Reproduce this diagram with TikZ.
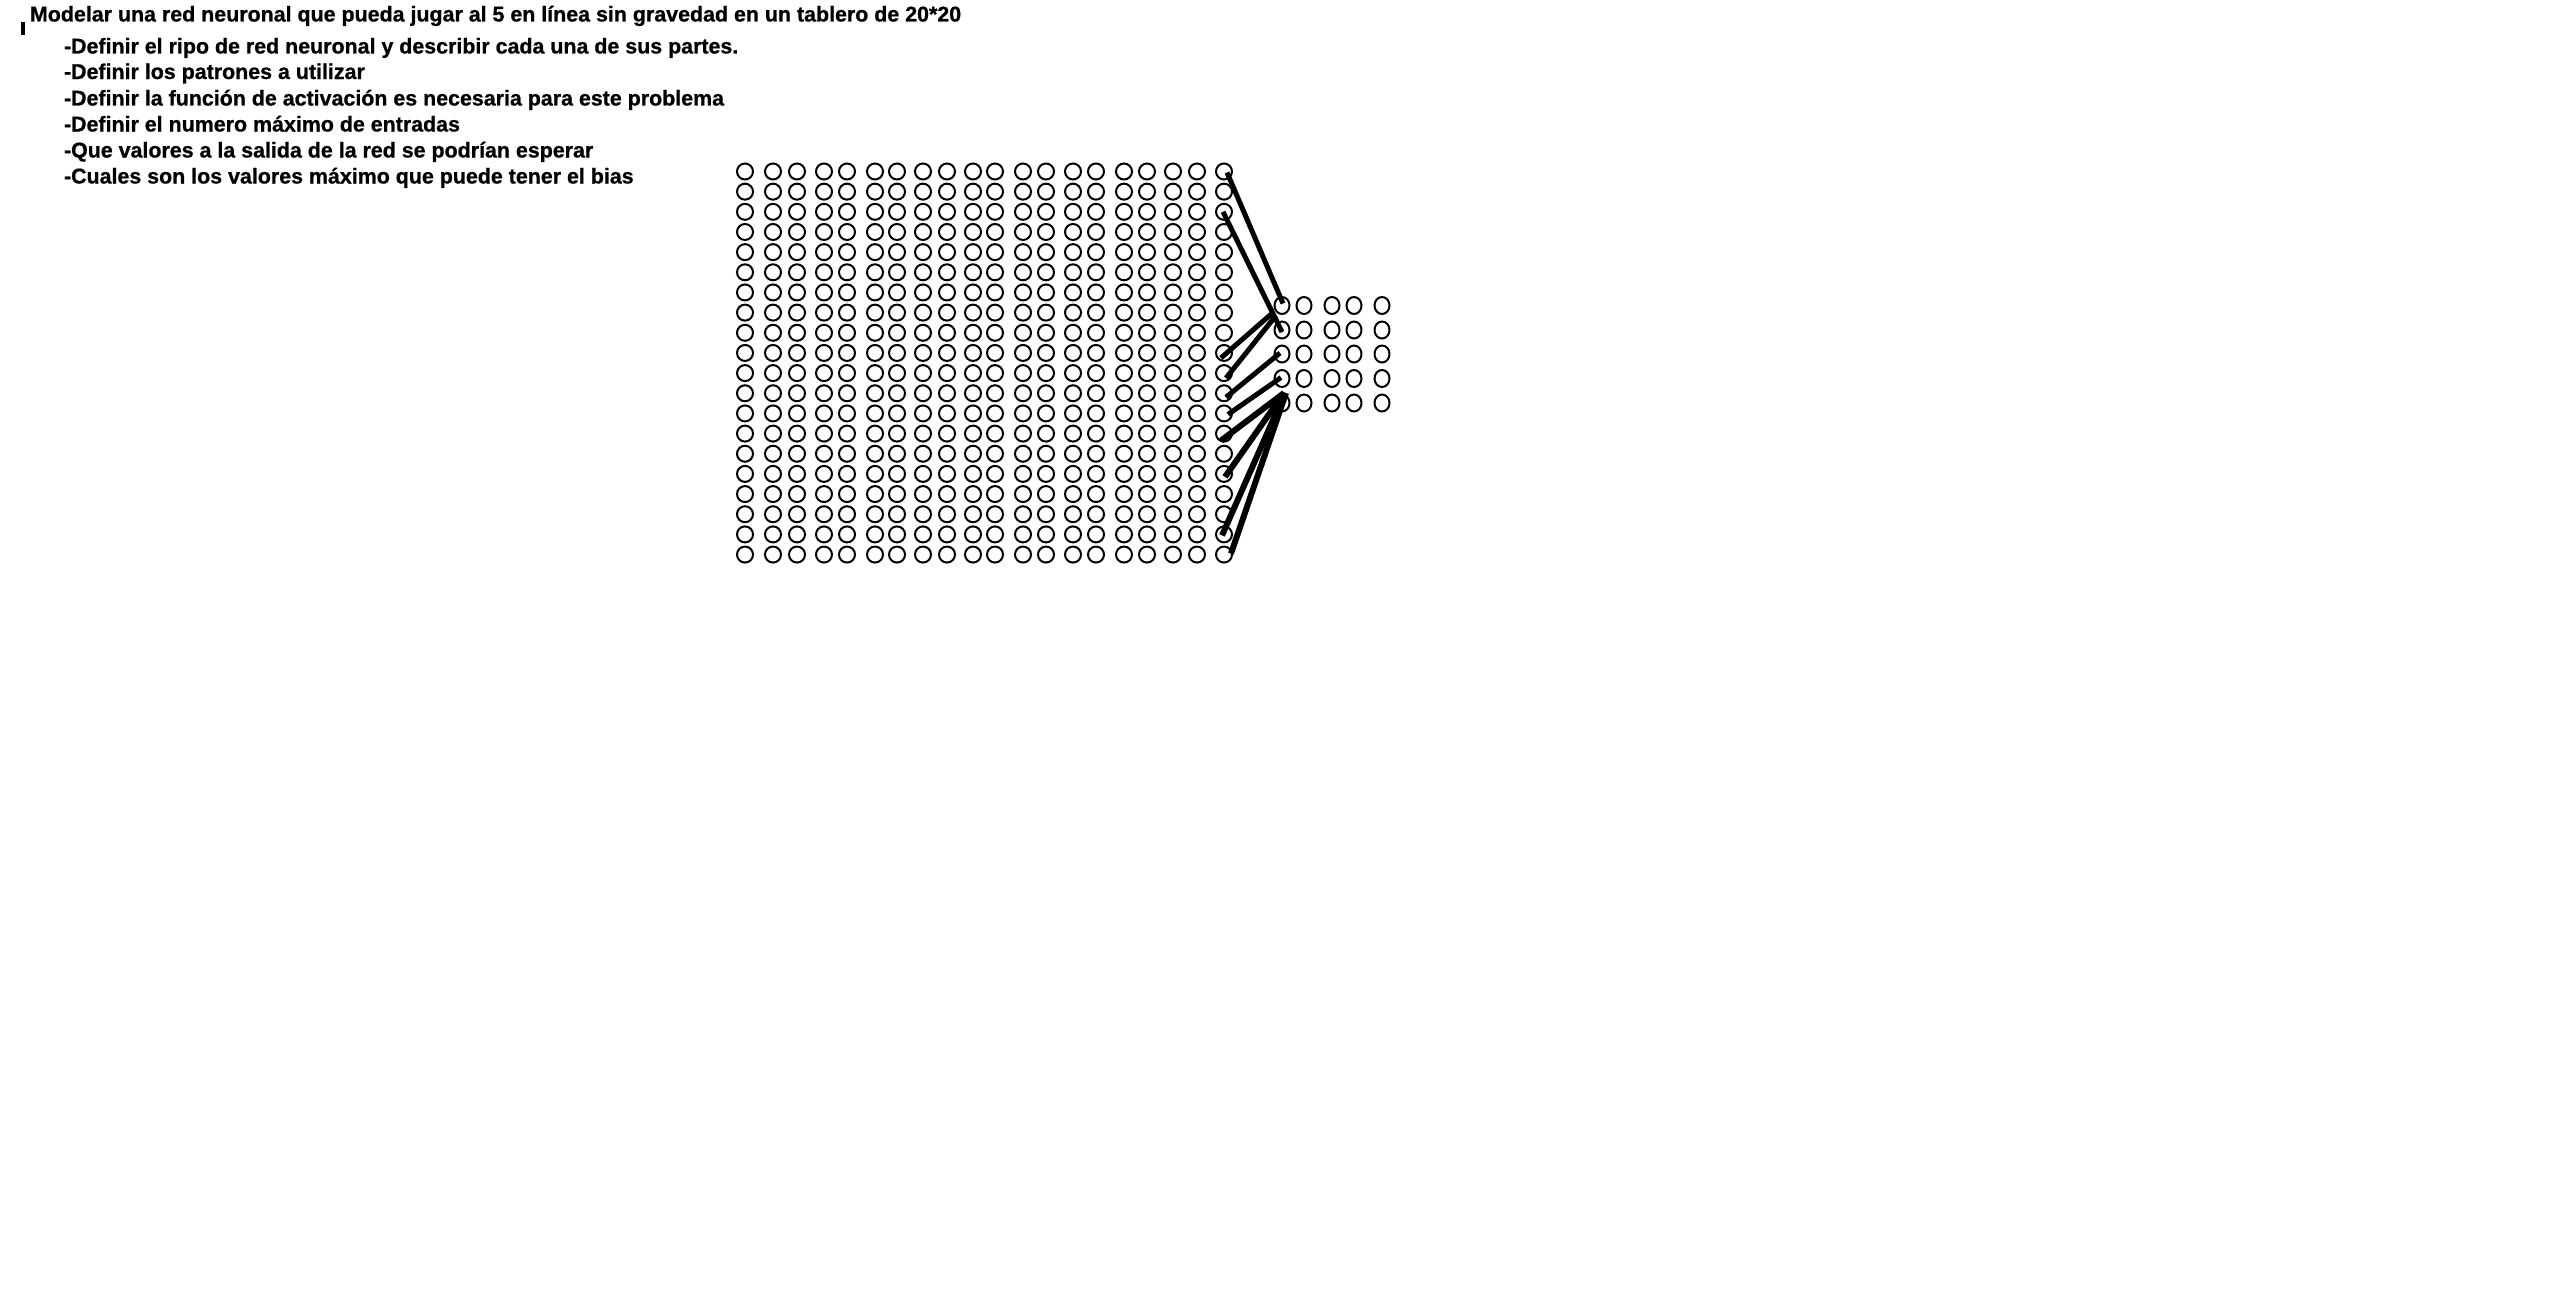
\documentclass[tikz,border=0pt]{standalone}
\usepackage{fontspec}
\setmainfont{Liberation Sans}[BoldFeatures={FakeBold=0.8}]
\usetikzlibrary{shapes.geometric}
\begin{document}
\begin{tikzpicture}[x=1pt,y=-1pt,
  txt/.style={anchor=base west,inner sep=0pt,outer sep=0pt,font=\fontsize{21.4}{26}\selectfont\bfseries},
  cell/.style={ellipse,draw=black,line width=2pt,minimum width=16pt,minimum height=16pt,inner sep=0pt},
  rcell/.style={ellipse,draw=black,line width=2pt,minimum width=15pt,minimum height=17pt,inner sep=0pt},
  link/.style={draw=black,line width=5pt}]
\useasboundingbox[fill=white] (0,0) rectangle (2552,1290);
\fill[black] (21,22) rectangle (25,35);
\node[txt] (title) at (30,21.5) {Modelar una red neuronal que pueda jugar al 5 en línea sin gravedad en un tablero de 20*20};
\node[txt] (i1) at (64,53.5) {-Definir el ripo de red neuronal y describir cada una de sus partes.};
\node[txt] (i2) at (64,79) {-Definir los patrones a utilizar};
\node[txt] (i3) at (64,105.5) {-Definir la función de activación es necesaria para este problema};
\node[txt] (i4) at (64,131.5) {-Definir el numero máximo de entradas};
\node[txt] (i5) at (64,157.5) {-Que valores a la salida de la red se podrían esperar};
\node[txt] (i6) at (64,183.5) {-Cuales son los valores máximo que puede tener el bias};
\foreach \x [count=\i] in {745,773,797,824,847,875,897,923,947,973,995,1023,1046,1073,1096,1124,1147,1173,1197,1224}
  \foreach \r in {1,...,20}
    \node[cell] (a\i-\r) at (\x,{171.5+(\r-1)*20.16}) {};
\foreach \x [count=\i] in {1282,1304,1332,1354,1382}
  \foreach \y [count=\j] in {305.5,330,354,378.5,403}
    \node[rcell] (b\i-\j) at (\x,\y) {};
\draw[link] ([shift={(3,1)}]a20-1.center) -- ([shift={(1,-2)}]b1-1.center);
\draw[link] ([shift={(-1,0)}]a20-3.center) -- ([shift={(0,2)}]b1-2.center);
\draw[link] ([shift={(-3,5)}]a20-10.center) -- ([shift={(-9,7)}]b1-1.center);
\draw[link] ([shift={(2,5)}]a20-11.center) -- ([shift={(-6,10)}]b1-1.center);
\draw[link] ([shift={(2,4)}]a20-12.center) -- ([shift={(-2,-1)}]b1-3.center);
\draw[link] ([shift={(4,1)}]a20-13.center) -- ([shift={(-1,-1)}]b1-4.center);
\draw[link,line width=6pt] ([shift={(-3,7)}]a20-14.center) -- ([shift={(2,-10)}]b1-5.center);
\draw[link,line width=6pt] ([shift={(1,3)}]a20-16.center) -- ([shift={(2,-10)}]b1-5.center);
\draw[link,line width=6pt] ([shift={(-2,1)}]a20-19.center) -- ([shift={(3,-10)}]b1-5.center);
\draw[link,line width=6pt] ([shift={(7,-1)}]a20-20.center) -- ([shift={(4,-10)}]b1-5.center);
\end{tikzpicture}
\end{document}
